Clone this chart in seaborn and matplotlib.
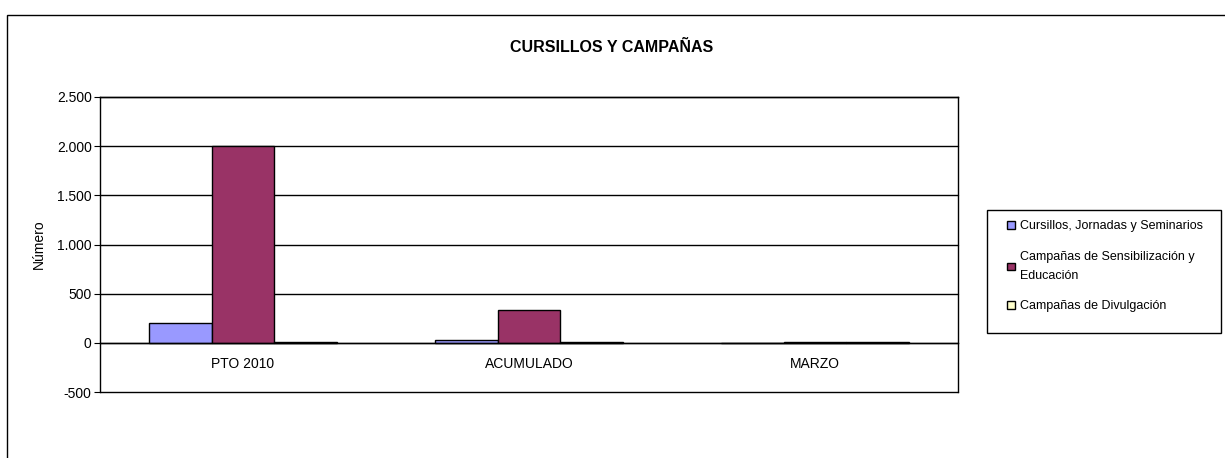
import seaborn as sns
import matplotlib.pyplot as plt
import pandas as pd
from matplotlib.patches import Rectangle
from matplotlib.ticker import FuncFormatter, FixedLocator

CATEGORIAS = ["PTO 2010", "ACUMULADO", "MARZO"]
SERIES = ["Cursillos, Jornadas y Seminarios",
          "Campañas de Sensibilización y\nEducación",
          "Campañas de Divulgación"]
CURSILLOS = [200, 25, 0]
SENSIBILIZACION = [2000, 335, 4]
DIVULGACION = [8, 6, 6]
COLORES = ["#9999FF", "#993366", "#FFFFCC"]
Y_TICKS = [-500, 0, 500, 1000, 1500, 2000, 2500]

# tabla larga para seaborn
rows = []
for serie, vals in zip(SERIES, [CURSILLOS, SENSIBILIZACION, DIVULGACION]):
    for cat, v in zip(CATEGORIAS, vals):
        rows.append({"cat": cat, "serie": serie, "valor": v})
df = pd.DataFrame(rows)

sns.set_style("white")
plt.rcParams['font.family'] = ['Liberation Sans', 'DejaVu Sans']
plt.rcParams.update({"text.color": "black", "axes.labelcolor": "black",
                     "xtick.color": "black", "ytick.color": "black"})

W, H = 1225, 458
fig = plt.figure(figsize=(W / 100, H / 100), dpi=100)
ax = fig.add_axes([100 / W, 1 - 392 / H, 858 / W, 295 / H])

sns.barplot(data=df, x="cat", y="valor", hue="serie", palette=COLORES,
            width=0.66, gap=0, edgecolor="black", linewidth=1,
            saturation=1, ax=ax)

ax.set_ylim(-500, 2500)
ax.set_xlim(-0.5, 2.5)
ax.set_yticks(Y_TICKS)
ax.yaxis.set_major_formatter(FuncFormatter(lambda v, p: f"{int(v):,}".replace(",", ".")))
for t in Y_TICKS:
    ax.axhline(t, color="black", linewidth=1, zorder=0, clip_on=False)

ax.spines['bottom'].set_position(('data', 0))
for s in ax.spines.values():
    s.set_color("black")
    s.set_linewidth(1)
ax.tick_params(axis='x', which='major', length=0, pad=10, labelsize=10)
ax.xaxis.set_minor_locator(FixedLocator([0.5, 1.5]))
ax.tick_params(axis='x', which='minor', length=4, direction='out', color='black')
ax.tick_params(axis='y', length=4, direction='out', color='black',
               labelsize=10, left=True, pad=2)

ax.set_xlabel("")
ax.set_ylabel("Número", fontsize=10, labelpad=8)

fig.text(612 / W, 1 - 47 / H, "CURSILLOS Y CAMPAÑAS", ha="center",
         va="center", fontsize=11.5, fontweight="bold")

handles, labels = ax.get_legend_handles_labels()
leg = ax.legend(handles, labels, loc="upper left",
                bbox_to_anchor=(1001 / W, 1 - 214 / H),
                bbox_transform=fig.transFigure, fontsize=9, frameon=False,
                handlelength=0.6, handleheight=0.6, handletextpad=0.45,
                labelspacing=1.5, borderpad=0)
for h in leg.legend_handles:
    h.set_edgecolor("black")
    h.set_linewidth(1)
for t in leg.get_texts():
    t.set_linespacing(1.75)

# marco de la leyenda y marco exterior del gráfico
fig.patches.append(Rectangle((987 / W, 1 - 333 / H), 234 / W, 123 / H,
                             transform=fig.transFigure, fill=False,
                             edgecolor="black", linewidth=1))
fig.patches.append(Rectangle((7 / W, -0.1), 1.2, 1 - 15 / H + 0.1,
                             transform=fig.transFigure, fill=False,
                             edgecolor="black", linewidth=1))

fig.savefig("out.png", dpi=100)
